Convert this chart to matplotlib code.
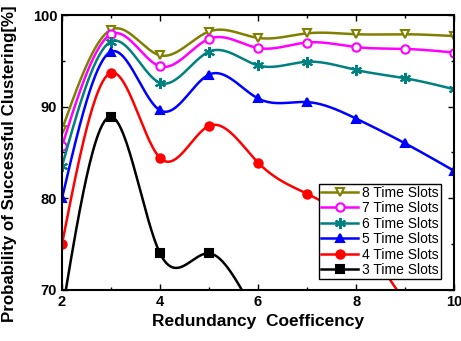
import numpy as np
import matplotlib.pyplot as plt
from matplotlib.ticker import MultipleLocator

plt.rcParams['font.family'] = ['Liberation Sans', 'DejaVu Sans']

x = [2, 3, 4, 5, 6, 7, 8, 9, 10]
slots8 = [87.5, 98.4, 95.6, 98.2, 97.5, 98.0, 97.9, 97.9, 97.7]
slots7 = [85.7, 97.9, 94.4, 97.4, 96.4, 97.0, 96.5, 96.3, 95.9]
slots6 = [83.5, 97.1, 92.6, 96.0, 94.5, 94.9, 94.0, 93.1, 91.9]
slots5 = [80.0, 96.0, 89.6, 93.5, 90.9, 90.5, 88.7, 86.0, 83.0]
slots4 = [75.0, 93.7, 84.4, 87.9, 83.9, 80.5, 76.5, 68.8, 64.0]
slots3 = [67.5, 88.9, 74.0, 74.0, 67.0, 61.0, 56.0, 51.0, 47.0]
labels = ['8 Time Slots', '7 Time Slots', '6 Time Slots',
          '5 Time Slots', '4 Time Slots', '3 Time Slots']


def natural_spline(xs, ys, n=400):
    # plain natural cubic spline, only used to draw the smooth line
    xs = np.asarray(xs, float)
    ys = np.asarray(ys, float)
    m = len(xs)
    h = np.diff(xs)
    A = np.zeros((m, m))
    b = np.zeros(m)
    A[0, 0] = A[-1, -1] = 1
    for i in range(1, m - 1):
        A[i, i - 1] = h[i - 1]
        A[i, i] = 2 * (h[i - 1] + h[i])
        A[i, i + 1] = h[i]
        b[i] = 3 * ((ys[i + 1] - ys[i]) / h[i] - (ys[i] - ys[i - 1]) / h[i - 1])
    c = np.linalg.solve(A, b)
    xx = np.linspace(xs[0], xs[-1], n)
    idx = np.clip(np.searchsorted(xs, xx) - 1, 0, m - 2)
    t = xx - xs[idx]
    bb = (ys[1:] - ys[:-1]) / h - h * (2 * c[:-1] + c[1:]) / 3
    d = (c[1:] - c[:-1]) / (3 * h)
    yy = ys[idx] + bb[idx] * t + c[idx] * t**2 + d[idx] * t**3
    return xx, yy


series = [slots8, slots7, slots6, slots5, slots4, slots3]
colors = ['#808000', '#FF00FF', '#008080', '#0000FF', '#FF0000', '#000000']
markers = ['v', 'o', (6, 2, 0), '^', 'o', 's']
fills = ['none', 'none', 'full', 'full', 'full', 'full']

fig = plt.figure(figsize=(4.61, 3.41), dpi=100)
ax = fig.add_axes([0.1345, 0.1496, 0.8505, 0.8064])

for ys, col, mk, fl, lab in zip(series, colors, markers, fills, labels):
    xx, yy = natural_spline(x, ys)
    ax.plot(xx, yy, color=col, lw=1.8)
    ms = 6 if mk != markers[2] else 8
    mfc = 'white' if fl == 'none' else col
    ax.plot(x, ys, ls='none', marker=mk, ms=ms, mfc=mfc, mec=col, mew=1.5)
    ax.plot([], [], color=col, lw=1.8, marker=mk, ms=ms,
            mfc=mfc, mec=col, mew=1.5, label=lab)

ax.set_xlim(2, 10)
ax.set_ylim(70, 100)
ax.xaxis.set_major_locator(MultipleLocator(2))
ax.xaxis.set_minor_locator(MultipleLocator(1))
ax.yaxis.set_major_locator(MultipleLocator(10))
ax.yaxis.set_minor_locator(MultipleLocator(5))
ax.tick_params(which='both', direction='in', top=True, right=True)
ax.tick_params(which='major', length=4, width=1)
ax.tick_params(which='minor', length=2.5, width=1)
for lbl in ax.get_xticklabels() + ax.get_yticklabels():
    lbl.set_fontweight('bold')
    lbl.set_fontsize(10.5)
for sp in ax.spines.values():
    sp.set_linewidth(1.5)

ax.set_xlabel('Redundancy  Coefficency', fontsize=12.5, fontweight='bold')
ax.set_ylabel('Probability of Successful Clustering[%]', fontsize=12.2,
              fontweight='bold')
ax.yaxis.set_label_coords(-0.115, 0.46)

leg = ax.legend(loc='lower right', bbox_to_anchor=(0.967, 0.04), fontsize=10,
                fancybox=False, framealpha=1, edgecolor='black',
                borderpad=0.15, labelspacing=0.1, handlelength=2.7,
                handletextpad=0.3, borderaxespad=0)
leg.get_frame().set_linewidth(1)

fig.savefig('out.png', dpi=100)
